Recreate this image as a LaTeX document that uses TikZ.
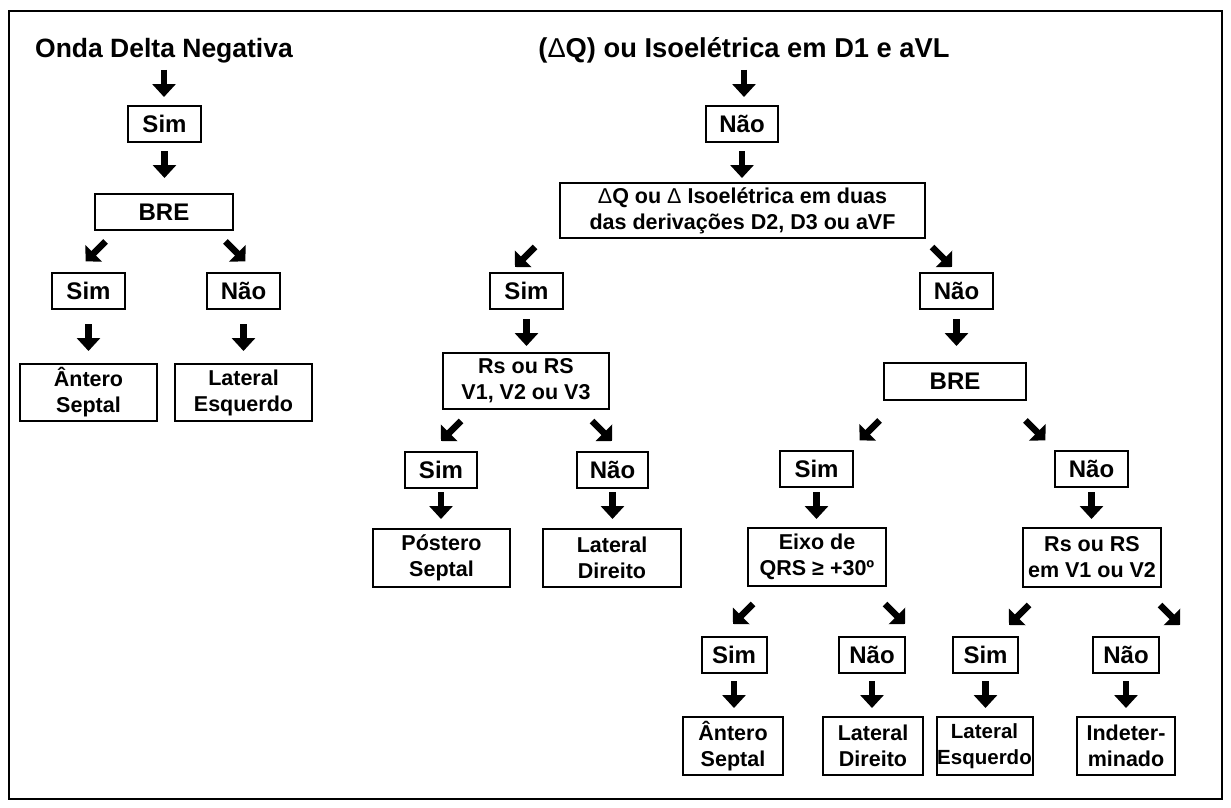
\documentclass[tikz,border=0pt]{standalone}
\usepackage{fontspec}
\setmainfont{Liberation Sans}
\usetikzlibrary{arrows.meta}
\newcommand{\dl}{{\mdseries Δ}}
\begin{document}
\begin{tikzpicture}[x=1pt,y=-1pt,
  box/.style={draw, line width=2pt, inner sep=0pt, align=center,
    font=\bfseries\fontsize{21.5}{26}\selectfont},
  yn/.style={box, minimum width=73, minimum height=36,
    font=\bfseries\fontsize{24}{27}\selectfont},
  ynsm/.style={yn, minimum width=65},
  brebox/.style={yn, line width=2.8pt},
  res/.style={box, minimum width=137, minimum height=57},
  ressm/.style={box, minimum width=100, minimum height=58},
  ttl/.style={inner sep=0pt, font=\bfseries\fontsize{26.5}{30}\selectfont},
  varr/.style={line width=6.5pt, -{Triangle[width=23pt,length=13pt]}},
  darr/.style={line width=6.5pt, -{Triangle[width=23pt,length=11.5pt]}}
]
\useasboundingbox (0,0) rectangle (1231,808);
\draw[line width=2.5pt] (9,11) rectangle (1222,799);

% ---------- left tree ----------
\node[ttl, anchor=base] (t1) at (164,58) {Onda Delta Negativa};
\node[yn] (s1) at (164.5,124) {Sim};
\node[brebox, minimum width=138] (bre1) at (164,212) {BRE};
\node[yn] (s2) at (88.5,291) {Sim};
\node[yn] (n2) at (243.5,291) {Não};
\node[res] (r1) at (88.5,392.5) {Ântero\\Septal};
\node[res] (r2) at (243.5,392.5) {Lateral\\Esquerdo};

\draw[varr] ([shift={(0,12)}]t1.base) -- ++(0,27);
\draw[varr] ([shift={(0,8)}]s1.south) -- ++(0,27);
\draw[darr] ([shift={(12,10)}]bre1.south west) -- ++(-20,20);
\draw[darr] ([shift={(-9,10)}]bre1.south east) -- ++(20,20);
\draw[varr] ([shift={(0,14)}]s2.south) -- ++(0,27);
\draw[varr] ([shift={(0,14)}]n2.south) -- ++(0,27);

% ---------- right tree ----------
\node[ttl, anchor=base, font=\bfseries\fontsize{27.3}{30}\selectfont] (t2) at (744,58) {(\dl Q) ou Isoelétrica em D1 e aVL};
\node[yn, minimum width=72] (n3) at (742,124) {Não};
\node[box, minimum width=365, minimum height=55] (big) at (742.5,210.5)
  {\dl Q ou \dl\ Isoelétrica em duas\\das derivações D2, D3 ou aVF};
\node[yn] (sA) at (526.5,291) {Sim};
\node[yn] (nA) at (956.5,291) {Não};
\node[box, minimum width=166, minimum height=56] (rs1) at (526,381) {Rs ou RS\\V1, V2 ou V3};
\node[brebox, minimum width=142, minimum height=37] (bre2) at (955,381.5) {BRE};
\node[yn, minimum width=72] (sB) at (441,470) {Sim};
\node[yn, minimum width=71] (nB) at (612.5,470) {Não};
\node[yn] (sC) at (816.5,469) {Sim};
\node[yn] (nC) at (1091.5,469) {Não};
\node[res, minimum height=58] (post) at (441.5,558) {Póstero\\Septal};
\node[res, minimum width=138, minimum height=58] (latd) at (612,558) {Lateral\\Direito};
\node[res, minimum width=138, minimum height=58] (eixo) at (817,557) {Eixo de\\QRS ≥ +30º};
\node[res, minimum width=138, minimum height=59] (rs2) at (1092,557.5) {Rs ou RS\\em V1 ou V2};
\node[ynsm] (sD) at (734,655) {Sim};
\node[ynsm, minimum width=66] (nD) at (872,655) {Não};
\node[ynsm] (sE) at (985.5,655) {Sim};
\node[ynsm, minimum width=66] (nE) at (1126,655) {Não};
\node[ressm] (rD1) at (733,746) {Ântero\\Septal};
\node[ressm] (rD2) at (873,746) {Lateral\\Direito};
\node[ressm, minimum width=96, font=\bfseries\fontsize{20.5}{26}\selectfont] (rD3) at (984.5,746) {Lateral\\Esquerdo};
\node[ressm, minimum width=98] (rD4) at (1126,746) {Indeter-\\minado};

\draw[varr] ([shift={(0,12)}]t2.base) -- ++(0,27);
\draw[varr] ([shift={(0,8)}]n3.south) -- ++(0,27);
\draw[darr] ([shift={(-24,8)}]big.south west) -- ++(-20,20);
\draw[darr] ([shift={(6,8)}]big.south east) -- ++(20,20);
\draw[varr] ([shift={(0,9)}]sA.south) -- ++(0,27);
\draw[varr] ([shift={(0,9)}]nA.south) -- ++(0,27);
\draw[darr] ([shift={(19,11)}]rs1.south west) -- ++(-20,20);
\draw[darr] ([shift={(-18,11)}]rs1.south east) -- ++(20,20);
\draw[darr] ([shift={(-3,19)}]bre2.south west) -- ++(-20,20);
\draw[darr] ([shift={(-2,19)}]bre2.south east) -- ++(20,20);
\draw[varr] ([shift={(0,3)}]sB.south) -- ++(0,27);
\draw[varr] ([shift={(0,3)}]nB.south) -- ++(0,27);
\draw[varr] ([shift={(0,4)}]sC.south) -- ++(0,27);
\draw[varr] ([shift={(0,4)}]nC.south) -- ++(0,27);
\draw[darr] ([shift={(6,17)}]eixo.south west) -- ++(-20,20);
\draw[darr] ([shift={(-2,17)}]eixo.south east) -- ++(20,20);
\draw[darr] ([shift={(7,17)}]rs2.south west) -- ++(-20,20);
\draw[darr] ([shift={(-2,17)}]rs2.south east) -- ++(20,20);
\draw[varr] ([shift={(0,7)}]sD.south) -- ++(0,27);
\draw[varr] ([shift={(0,7)}]nD.south) -- ++(0,27);
\draw[varr] ([shift={(0,7)}]sE.south) -- ++(0,27);
\draw[varr] ([shift={(0,7)}]nE.south) -- ++(0,27);
\end{tikzpicture}
\end{document}
